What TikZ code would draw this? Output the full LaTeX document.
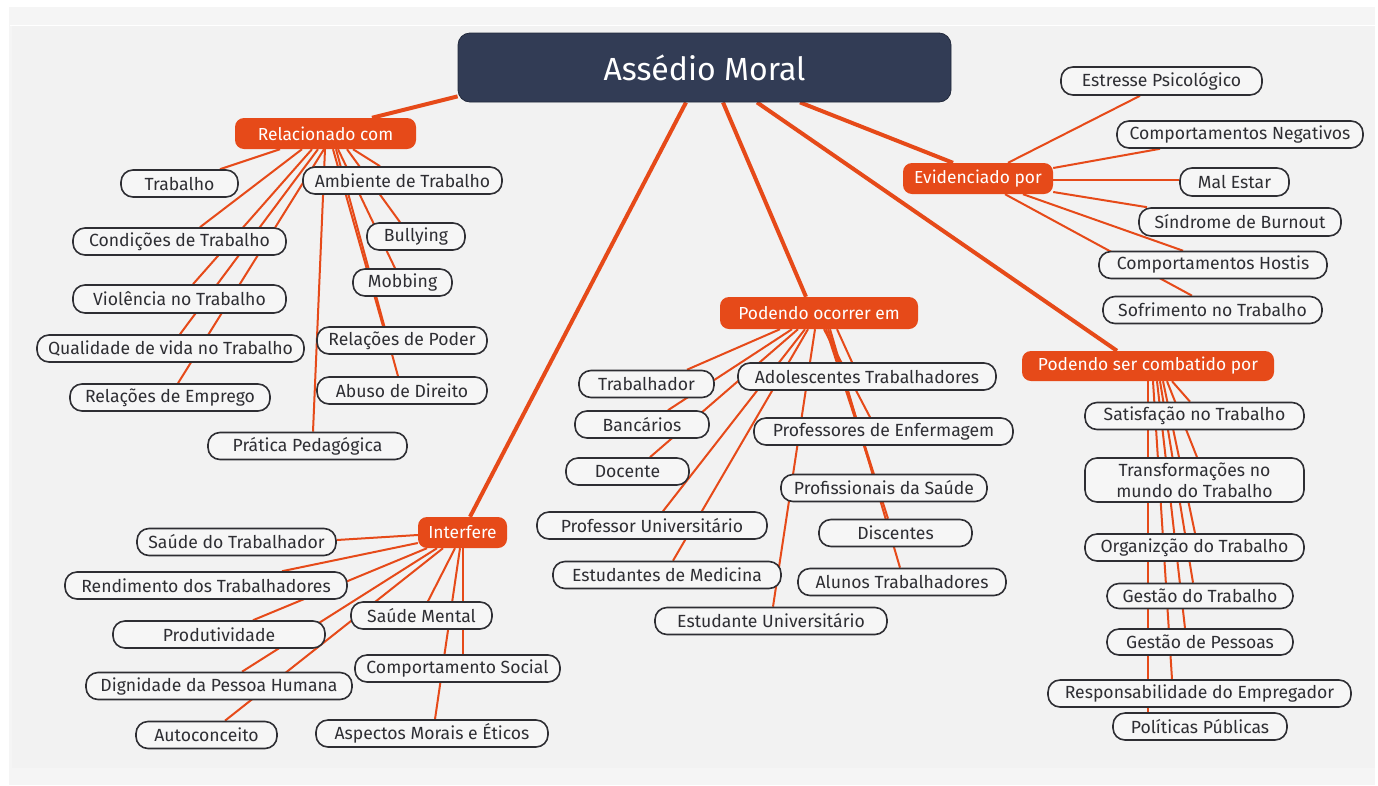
\documentclass[tikz,border=0pt]{standalone}
\usepackage{fontspec}
\setmainfont{Fira Sans}
\pgfdeclarelayer{bg}
\pgfdeclarelayer{lines}
\pgfsetlayers{bg,lines,main}
\definecolor{orng}{HTML}{E64A19}
\definecolor{navy}{HTML}{323C55}
\definecolor{panelout}{HTML}{F5F5F5}
\definecolor{panel}{HTML}{F2F2F2}
\definecolor{ink}{HTML}{2E2E33}
\definecolor{leaffill}{HTML}{F6F6F6}
\tikzset{
  leaf/.style={draw=ink, line width=1.6pt, fill=leaffill, rounded corners=12pt, text=ink,
    font=\fontsize{17.6}{21}\selectfont, inner sep=0pt, align=center},
  hub/.style={fill=orng, rounded corners=9pt, text=white, font=\fontsize{17.4}{19}\selectfont, inner sep=0pt},
  rootbox/.style={fill=navy, draw=navy!70!black, line width=0.8pt, rounded corners=12pt, text=white,
    font=\fontsize{32}{36}\selectfont, inner sep=0pt},
  lk/.style={draw=orng, line width=2pt},
  mainlk/.style={draw=orng, line width=4pt},
}
\newcommand\lf[6]{\node[leaf, minimum width=#4pt, minimum height=#5pt] (#1) at (#2,#3) {#6};}
\newcommand\hb[6]{\node[hub, minimum width=#4pt, minimum height=#5pt] (#1) at (#2,#3) {#6};}
\newcommand\cn[4]{\draw[lk] ([xshift=#2pt]#1.south) -- ([xshift=#4pt]#3.north);}
\begin{document}
\begin{tikzpicture}[x=1pt,y=-1pt]
\useasboundingbox (0,0) rectangle (1378,785);
\begin{pgfonlayer}{bg}
  \fill[white] (0,0) rectangle (1378,785);
  \fill[panelout] (9,7) rectangle (1375,785);
  \fill[panel] (12,26) rectangle (1375,768);
  \draw[white, line width=1pt] (10,25) -- (1375,25);
\end{pgfonlayer}

% root
\node[rootbox, minimum width=493pt, minimum height=69pt] (root) at (704.5,67.5) {Assédio Moral};

% hubs
\hb{rel}{325.5}{133.5}{181}{31}{Relacionado com}
\hb{evid}{978}{178.5}{150}{31}{Evidenciado por}
\hb{ocor}{819}{313}{198}{32}{Podendo ocorrer em}
\hb{comb}{1148}{366}{252}{30}{Podendo ser combatido por}
\hb{interf}{462.5}{532.5}{89}{31}{Interfere}

% Relacionado com
\lf{trab}{179.5}{183.5}{117}{27}{Trabalho}
\lf{amb}{402.5}{180.5}{199}{27}{Ambiente de Trabalho}
\lf{cond}{179.5}{241.5}{213}{27}{Condições de Trabalho}
\lf{bull}{416}{236.5}{98}{27}{Bullying}
\lf{mob}{402.5}{282.5}{99}{27}{Mobbing}
\lf{viol}{179.5}{299}{213}{28}{Violência no Trabalho}
\lf{relp}{402}{340.5}{170}{27}{Relações de Poder}
\lf{qual}{170.5}{348.5}{267}{27}{Qualidade de vida no Trabalho}
\lf{abuso}{402}{390.5}{170}{27}{Abuso de Direito}
\lf{relemp}{170}{397.5}{200}{27}{Relações de Emprego}
\lf{prat}{307.5}{446}{199}{27}{Prática Pedagógica}

% Interfere
\lf{saudet}{236.5}{542}{199}{27}{Saúde do Trabalhador}
\lf{rend}{206}{585.5}{282}{27}{Rendimento dos Trabalhadores}
\lf{saudem}{421.5}{615.5}{141}{27}{Saúde Mental}
\lf{prod}{219}{634.5}{212}{27}{Produtividade}
\lf{comps}{457.5}{668.5}{205}{27}{Comportamento Social}
\lf{dign}{219}{686}{266}{27}{Dignidade da Pessoa Humana}
\lf{auto}{206.5}{735}{141}{27}{Autoconceito}
\lf{asp}{432}{733.5}{232}{27}{Aspectos Morais e Éticos}

% Podendo ocorrer em
\lf{trabr}{646.5}{384}{135}{27}{Trabalhador}
\lf{adol}{867}{376.5}{258}{27}{Adolescentes Trabalhadores}
\lf{banc}{642}{424.5}{134}{27}{Bancários}
\lf{pde}{883.5}{431.5}{259}{27}{Professores de Enfermagem}
\lf{doc}{627.5}{471.5}{123}{27}{Docente}
\lf{prof}{884}{488}{206}{27}{Profissionais da Saúde}
\lf{pu}{652}{525.5}{230}{27}{Professor Universitário}
\lf{disc}{895.5}{533}{153}{27}{Discentes}
\lf{med}{667}{575}{228}{27}{Estudantes de Medicina}
\lf{alun}{902}{582}{208}{27}{Alunos Trabalhadores}
\lf{eu}{771}{621}{232}{27}{Estudante Universitário}

% Evidenciado por
\lf{estr}{1161.5}{81}{201}{28}{Estresse Psicológico}
\lf{cneg}{1240}{134.5}{246}{27}{Comportamentos Negativos}
\lf{mal}{1234.5}{182}{109}{28}{Mal Estar}
\lf{sind}{1240}{222}{202}{28}{Síndrome de Burnout}
\lf{chos}{1213}{265}{228}{27}{Comportamentos Hostis}
\lf{sofr}{1212.5}{310}{219}{27}{Sofrimento no Trabalho}

% Podendo ser combatido por
\lf{sat}{1194.5}{416}{219}{27}{Satisfação no Trabalho}
\lf{transf}{1194.5}{480}{219}{44}{Transformações no\\mundo do Trabalho}
\lf{org}{1194.5}{547.5}{219}{27}{Organizção do Trabalho}
\lf{gtrab}{1200}{596}{186}{25}{Gestão do Trabalho}
\lf{gpes}{1200}{642}{186}{26}{Gestão de Pessoas}
\lf{resp}{1199.5}{693.5}{303}{27}{Responsabilidade do Empregador}
\lf{pol}{1200}{726.5}{174}{27}{Políticas Públicas}

\begin{pgfonlayer}{lines}
  % main connectors
  \draw[mainlk] ([yshift=6pt]root.south west) -- ([xshift=46.5pt]rel.north);
  \draw[mainlk] ([xshift=-18.5pt]root.south) -- ([xshift=7.5pt]interf.north);
  \draw[mainlk] ([xshift=18.5pt]root.south) -- ([xshift=-13pt]ocor.north);
  \draw[mainlk] ([xshift=95.5pt]root.south) -- ([xshift=-25pt]evid.north);
  \draw[mainlk] ([xshift=52.5pt]root.south) -- ([xshift=-31pt]comb.north);

  % Relacionado com
  \cn{rel}{-45.5}{trab}{40.5}
  \cn{rel}{-23.5}{cond}{20.5}
  \cn{rel}{-13.5}{viol}{13.5}
  \cn{rel}{-7.5}{qual}{9.5}
  \cn{rel}{-1.5}{relemp}{8}
  \cn{rel}{-0.5}{prat}{5.5}
  \cn{rel}{7.5}{relp}{-19}
  \cn{rel}{10.5}{abuso}{-4}
  \cn{rel}{12.5}{mob}{-7.5}
  \cn{rel}{21.5}{bull}{-16}
  \cn{rel}{27.5}{amb}{-22.5}

  % Interfere
  \draw[lk] ([yshift=-2.5pt]interf.west) -- ([yshift=2pt]saudet.east);
  \draw[lk] ([yshift=-10.5pt]interf.west) -- ([xshift=76pt]rend.north);
  \cn{interf}{-35.5}{prod}{34}
  \cn{interf}{-25.5}{dign}{23}
  \cn{interf}{-19.5}{auto}{18.5}
  \cn{interf}{-7.5}{saudem}{6.5}
  \cn{interf}{-2.5}{asp}{3}
  \cn{interf}{0.5}{comps}{5.5}

  % Podendo ocorrer em
  \cn{ocor}{-39}{trabr}{40.5}
  \cn{ocor}{-27}{banc}{26}
  \cn{ocor}{-21}{doc}{22.5}
  \cn{ocor}{-14}{pu}{11}
  \cn{ocor}{-11}{med}{6}
  \cn{ocor}{-4}{eu}{2}
  \cn{ocor}{18}{adol}{-15}
  \cn{ocor}{5}{pde}{-13.5}
  \cn{ocor}{7}{prof}{-11}
  \cn{ocor}{9}{disc}{-7.5}
  \cn{ocor}{11}{alun}{-2}

  % Evidenciado por
  \draw[lk] ([xshift=30pt]evid.north) -- ([xshift=-21.5pt]estr.south);
  \draw[lk] ([yshift=10.5pt]evid.east) -- ([xshift=-80pt]cneg.south);
  \draw[lk] ([yshift=-1.5pt]evid.east) -- ([yshift=2pt]mal.west);
  \draw[lk] ([yshift=-13.5pt]evid.east) -- ([xshift=-93pt]sind.north);
  \cn{evid}{45}{chos}{-30}
  \cn{evid}{27}{sofr}{-20.5}

  % Podendo ser combatido por
  \cn{comb}{24}{sat}{-4.5}
  \cn{comb}{19}{transf}{2.5}
  \cn{comb}{15}{org}{0.5}
  \cn{comb}{12}{gtrab}{-7}
  \cn{comb}{9}{gpes}{-15}
  \cn{comb}{5}{resp}{-27.5}
  \cn{comb}{0}{pol}{-52}
\end{pgfonlayer}
\end{tikzpicture}
\end{document}
